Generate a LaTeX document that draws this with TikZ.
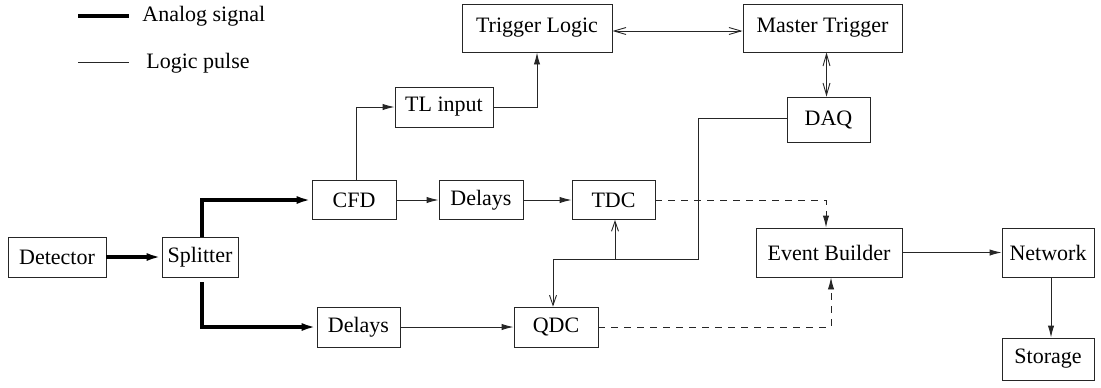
\documentclass[tikz,border=0pt]{standalone}
\usepackage{fontspec}
\setmainfont{Liberation Serif}
\usetikzlibrary{arrows.meta}
\begin{document}
\begin{tikzpicture}[x=0.5pt,y=-0.5pt,
  blk/.style={draw=black!85,line width=0.45pt,inner sep=0pt,font=\fontsize{11}{13}\selectfont},
  sig/.style={line width=0.45pt,draw=black!85},
  analog/.style={line width=1.7pt},
  fwd/.style={-{Latex[length=6pt,width=3.2pt]}},
  fwdthick/.style={-{Latex[length=7.5pt,width=4pt]}},
  open/.style={-{Straight Barb[length=5pt,width=3.5pt]}},
  openboth/.style={{Straight Barb[length=6pt,width=3.5pt]}-{Straight Barb[length=6pt,width=3.5pt]}},
  dashline/.style={line width=0.45pt,draw=black!85,dash pattern=on 3.5pt off 3pt},
  lbl/.style={font=\fontsize{11}{13}\selectfont,inner sep=0pt,anchor=west}]
\useasboundingbox (0,0) rectangle (1101,387);

% legend
\coordinate (la1) at (78,16);  \coordinate (la2) at (129,16);
\coordinate (lb1) at (78,62);  \coordinate (lb2) at (129,62);
\draw[analog] (la1) -- (la2);
\draw[sig] (lb1) -- (lb2);
\node[lbl] (lga) at (142,16) {Analog signal};
\node[lbl] (lgb) at (146,63) {Logic pulse};

% blocks
\node[blk,minimum width=49pt,minimum height=20pt] (det) at (57,257) {Detector};
\node[blk,minimum width=38pt,minimum height=20pt] (spl) at (200,257) {Splitter};
\node[blk,minimum width=42pt,minimum height=19.5pt] (cfd) at (354,200) {CFD};
\node[blk,minimum width=42pt,minimum height=19.5pt] (dla) at (481,200) {Delays};
\node[blk,minimum width=41.5pt,minimum height=19.5pt] (tdc) at (613.5,200) {TDC};
\node[blk,minimum width=41.5pt,minimum height=20pt] (dlb) at (358.5,327) {Delays};
\node[blk,minimum width=42pt,minimum height=20pt] (qdc) at (556,327) {QDC};
\node[blk,minimum width=49pt,minimum height=20pt] (tli) at (444,107) {TL input};
\node[blk,minimum width=75pt,minimum height=24pt] (tl) at (537,28) {Trigger Logic};
\node[blk,minimum width=79.5pt,minimum height=24pt] (mt) at (822.5,28) {Master Trigger};
\node[blk,minimum width=41.5pt,minimum height=22.5pt] (daq) at (828.5,119.5) {DAQ};
\node[blk,minimum width=73pt,minimum height=24.5pt] (eb) at (829,252.5) {Event Builder};
\node[blk,minimum width=46pt,minimum height=24.5pt] (net) at (1048,252.5) {Network};
\node[blk,minimum width=46pt,minimum height=21pt] (sto) at (1048,359) {Storage};

% analog paths
\draw[analog,fwdthick] (det) -- (spl);
\draw[analog,fwdthick] ([xshift=1pt]spl.north) |- (cfd.west);
\draw[analog,fwdthick] ([xshift=1pt,yshift=-2.5pt]spl.south) |- (dlb.west);

% logic paths
\draw[sig,fwd] (cfd) -- (dla);
\draw[sig,fwd] (dla) -- (tdc);
\draw[sig,fwd] (dlb) -- (qdc);
\draw[sig,fwd] ([xshift=1pt]cfd.north) |- (tli.west);
\draw[sig,fwd] (tli.east) -| (tl.south);
\draw[sig,openboth] ([yshift=-1.5pt]tl.east) -- ([yshift=-1.5pt]mt.west);
\draw[sig,openboth] ([xshift=-1pt]daq.north) -- ([xshift=-1pt]daq.north |- mt.south);
\draw[sig,fwd] (eb.east) -- (net.west |- eb.east);
\draw[sig,fwd] ([xshift=1.5pt]net.south) -- ([xshift=1.5pt]sto.north);

% DAQ gate distribution
\coordinate (gx) at (698,259);
\coordinate (gq) at (553,259);
\coordinate (gt) at (615,259);
\draw[sig,open] ([yshift=0.75pt]daq.west) -| (gx) -- (gq) -- (gq |- qdc.north);
\draw[sig,open] (gt) -- (gt |- tdc.south);

% readout to event builder
\draw[dashline,fwd] (tdc.east) -| ([xshift=-1.5pt]eb.north);
\draw[dashline,fwd] (qdc.east) -| ([xshift=1pt]eb.south);
\end{tikzpicture}
\end{document}
